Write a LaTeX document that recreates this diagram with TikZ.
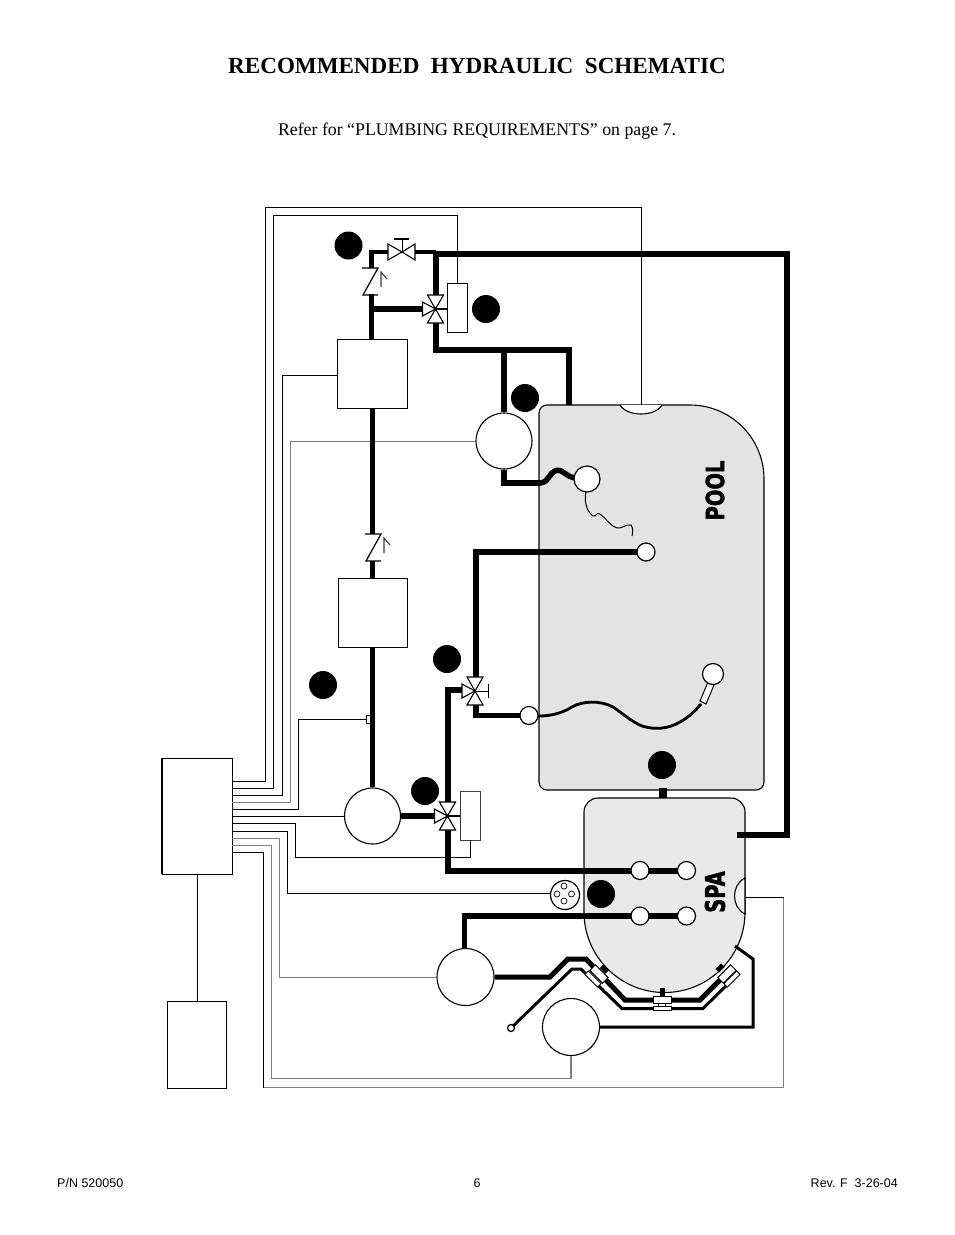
\documentclass[tikz,border=0pt]{standalone}
\usepackage{fontspec}
\usepackage{graphicx}
\setmainfont{Liberation Serif}
\setsansfont{Liberation Sans}
\newfontfamily\heavyfont[FakeBold=1.8]{DejaVu Sans Bold}
\definecolor{poolg}{HTML}{E3E3E3}
\definecolor{spag}{HTML}{E9E9E9}
\definecolor{wgray}{HTML}{808080}
\tikzset{
  pipe/.style={line width=5.2pt,black},
  wire/.style={line width=1.1pt,black},
  gwire/.style={line width=1.1pt,wgray},
  equip/.style={draw,line width=.9pt,fill=white,minimum width=#1,inner sep=0pt},
  pumpc/.style={circle,draw,line width=1.1pt,fill=white,minimum size=#1,inner sep=0pt},
  dot/.style={circle,fill=black,minimum size=28pt,inner sep=0pt},
  tankline/.style={draw=black,line width=1.1pt},
  vtri/.style={draw=black,line width=1.1pt,fill=white,line join=miter},
  threeway/.pic={
    \draw[vtri] (0,0)--(-8,-14)--(8,-14)--cycle;
    \draw[vtri] (0,0)--(-8,14)--(8,14)--cycle;
    \draw[vtri] (0,0)--(-13,-7)--(-13,7)--cycle;
  },
  checkv/.pic={
    \draw[line width=1.2pt] (-9,0)--(7,0)--(-8,27)--(7,27);
    \draw[line width=1.1pt,black!75] (10,19)--(10,4)--(16,11);
  },
  jetmain/.style={draw,line width=1pt,fill=white,minimum width=18pt,minimum height=8pt,inner sep=0pt},
  jetsub/.style={draw,line width=.8pt,fill=white,minimum width=18pt,minimum height=5pt,inner sep=0pt},
  stub/.style={fill=black,minimum width=8pt,minimum height=5pt,inner sep=0pt},
  port/.style={circle,draw,line width=1.2pt,fill=white,minimum size=#1,inner sep=0pt},
}
\begin{document}
\begin{tikzpicture}[x=1pt,y=-1pt]
\useasboundingbox (0,0) rectangle (954,1235);
% texts
\node[font=\fontsize{23.1}{25}\selectfont\bfseries,inner sep=0pt] (title) at (477,66) {RECOMMENDED\ \ HYDRAULIC\ \ SCHEMATIC};
\node[font=\fontsize{17.8}{20}\selectfont,inner sep=0pt] (sub) at (477,131) {Refer for “PLUMBING REQUIREMENTS” on page 7.};
\node[font=\sffamily\fontsize{12.5}{13}\selectfont,inner sep=0pt,anchor=west] (fl) at (57,1183) {P/N 520050};
\node[font=\sffamily\fontsize{12.5}{13}\selectfont,inner sep=0pt] (fc) at (477,1183) {6};
\node[font=\sffamily\fontsize{12.5}{13}\selectfont,inner sep=0pt,anchor=east] (fr) at (898,1183) {Rev. F\ \ 3-26-04};

% pool and spa
\draw[tankline,fill=poolg] (539,413) arc[start angle=180,end angle=270,radius=8] -- (690,405)
  arc[start angle=-90,end angle=0,radius=74] -- (764,782) arc[start angle=0,end angle=90,radius=8]
  -- (547,790) arc[start angle=90,end angle=180,radius=8] -- cycle;
\draw[tankline,fill=white] (620,405) .. controls (627,417) and (655,417) .. (662,405);
\draw[tankline,fill=spag] (584,812) arc[start angle=180,end angle=270,radius=14] -- (731,798)
  arc[start angle=-90,end angle=0,radius=14] -- (745,912)
  arc[start angle=0,end angle=180,radius=80.5] -- cycle;
\draw[tankline,fill=white!50!spag] (745,878) .. controls (731,885) and (731,907) .. (745,914) -- cycle;
\node[stub,minimum width=8pt,minimum height=10pt] (link) at (663,793) {};
\node[rotate=90,font=\heavyfont\fontsize{25}{25}\selectfont,inner sep=0pt] (pooltxt) at (715,490.5) {\scalebox{0.78}[1]{POOL}};
\node[rotate=90,font=\heavyfont\fontsize{27}{27}\selectfont,inner sep=0pt] (spatxt) at (715,892) {\scalebox{0.72}[1]{SPA}};

% equipment
\node[equip=70pt,minimum height=69pt] (heatA) at (372,373.5) {};
\node[equip=69pt,minimum height=69pt] (heatB) at (372.5,612.5) {};
\node[equip=70pt,minimum height=116pt] (ctrl) at (197,816) {};
\draw[line width=2pt] ([xshift=.6pt]ctrl.north west) -- ([xshift=.6pt]ctrl.south west);
\node[equip=59pt,minimum height=87pt] (xfmr) at (196.5,1044.5) {};
\node[pumpc=56pt] (pumpA) at (504,441) {};
\node[pumpc=56pt] (pumpB) at (372.5,816) {};
\node[pumpc=57pt] (pumpC) at (465.5,977) {};
\node[pumpc=57pt] (pumpD) at (571,1027) {};
\node[equip=20pt,minimum height=49pt] (actA) at (457,308) {};
\node[draw=black!75,line width=.9pt,fill=white,minimum width=20pt,minimum height=49pt,inner sep=0pt] (actB) at (470,815.5) {};
\node[draw,line width=.8pt,fill=white,minimum width=5pt,minimum height=8pt,inner sep=0pt] (sensor) at (369,719) {};

% coordinates
\coordinate (vA) at (435.5,309);
\coordinate (vB) at (447.5,816);
\coordinate (vC) at (475,691);
\coordinate (gate) at (402,252);
\coordinate (chkA) at (371,268);
\coordinate (chkB) at (374,534);

% control wires
\draw[wire] (ctrl.east |- 0,781.5) -| (265.5,207.5) -| (641.5,405);
\draw[wire] (ctrl.east |- 0,788.5) -| (273.5,215.5) -| ([xshift=.5pt]actA.north);
\draw[wire] (ctrl.east |- 0,795.5) -| (282.5,375.5) -- (heatA.west |- 0,375.5);
\draw[gwire] (ctrl.east |- 0,802.5) -| (290.5,441.5) -- (pumpA.west |- 0,441.5);
\draw[wire] (ctrl.east |- 0,809.5) -| (298.5,719.5) -- (sensor.west |- 0,719.5);
\draw[wire] (ctrl.east |- 0,816.5) -- (pumpB.west |- 0,816.5);
\draw[wire] (ctrl.east |- 0,823.5) -| (295.5,857.5) -| ([xshift=.5pt]actB.south);
\draw[wire] (ctrl.east |- 0,831.5) -| (287.5,893.5) -- (551,893.5);
\draw[gwire] (ctrl.east |- 0,838.5) -| (279.5,977.5) -- (pumpC.west |- 0,977.5);
\draw[gwire] (ctrl.east |- 0,845.5) -| (271.5,1078.5) -| (pumpD.south);
\draw[wire] (ctrl.east |- 0,852.5) -| (263.5,1087.5);
\draw[gwire] (263.5,1087.5) -- (783.5,1087.5) -- (783.5,897.5);
\draw[wire] (783.5,897.5) -- (745,897.5);
\draw[wire] ([xshift=.5pt]ctrl.south) -- ([xshift=.5pt]ctrl.south |- xfmr.north);
\draw[wire] (vA) -- (actA.west |- vA);
\draw[wire] (vB) -- (actB.west |- vB);

% piping
\draw[pipe] (737,835) -- (787,835) -- (787,254) -- (436,254) -- (436,297);
\draw[pipe] (436,323) -- (436,350) -- (569,350) -- (569,405);
\draw[pipe] (504,350) -- (pumpA.north);
\draw[pipe] (371.5,294) -- (371.5,339);
\draw[pipe] (371.5,309) -- (423,309);
\draw[pipe,line width=4.4pt] (371.5,268) -- (371.5,252) -- (392,252);
\draw[pipe,line width=4.4pt] (412,252) -- (436,252);
\draw[pipe] (372.5,408) -- (372.5,534);
\draw[pipe] (372.5,561) -- (heatB.north);
\draw[pipe] (heatB.south) -- (pumpB.north);
\draw[pipe] (pumpB.east) -- (436,816);
\draw[pipe] (448,804) -- (448,690) -- (463,690);
\draw[pipe] (448,829) -- (448,871) -- (640,871) -- (687,871);
\draw[pipe] (476,678) -- (476,552) -- (646,552);
\draw[pipe] (476,704) -- (476,715.5) -- (529,715.5);
\draw[pipe] (pumpA.south) -- (504,483) -- (541,483);
\draw[pipe] (464.5,949) -- (464.5,916) -- (687,916);
\draw[line width=2.8pt] (538,716) .. controls (552,716) and (562,713) .. (572,707)
  .. controls (582,701) and (600,700) .. (613,707)
  .. controls (622,713) and (632,722) .. (642,726)
  .. controls (655,730) and (668,729) .. (680,722)
  .. controls (689,717) and (695,711) .. (701,704);
\draw[line width=5.5pt] (540,483) .. controls (550,482) and (549,472) .. (556,470.5)
  .. controls (564,469) and (565,477) .. (576,478);
\draw[line width=1pt] (586,492) .. controls (584,500) and (586,511) .. (593,516)
  .. controls (596,517) and (596,512) .. (600,514)
  .. controls (606,518) and (610,526) .. (617,528)
  .. controls (622,529) and (625,524) .. (631,525) .. controls (633,528) and (633,532) .. (632,536);

% jet piping
\draw[pipe,line width=5pt] (pumpC.east |- 0,977) -- (550,977) -- (568,959) -- (586,959) -- (625,1000) -- (700,1000) -- (727,973);
\draw[line width=3pt] (511,1028) -- (572,969) -- (581,969) -- (622,1008.5) -- (703,1008.5) -- (733,979);
\draw[line width=3pt] (pumpD.east) -- (753,1027) -- (753,959) -- (735,946);
\node[stub,rotate=-45] (stubL) at (604.5,969) {};
\node[stub,rotate=45] (stubR) at (720,968) {};
\node[stub,minimum width=5pt,minimum height=8pt] (stubC) at (662,992) {};
\node[draw,line width=.6pt,fill=white,minimum width=7pt,minimum height=3pt,inner sep=0pt] (jetlink) at (662,1004.5) {};
\node[jetmain,minimum width=18pt,minimum height=7pt] (jetC) at (662.5,999.5) {};
\node[jetsub,minimum width=18pt,minimum height=4.5pt] (jetCs) at (662.5,1008.5) {};
\node[jetsub,rotate=-45] (jetLs) at (593,979) {};
\node[jetmain,rotate=-45] (jetL) at (599,974) {};
\node[jetsub,rotate=45] (jetRs) at (732,979) {};
\node[jetmain,rotate=45] (jetR) at (727,974) {};
\node[port=7pt] (air) at (511,1028) {};

% ports
\node[port=26pt] (skimA) at (587,479) {};
\node[port=18pt] (drain) at (646,552) {};
\node[port=18pt] (retA) at (529,715.5) {};
\draw[line width=1pt,fill=white] (700,701) -- (706,704) -- (714,685) -- (708,682) -- cycle;
\node[port=21pt] (retB) at (713,674) {};
\node[port=18pt] (spaA) at (640,870.5) {};
\node[port=18pt] (spaB) at (686.5,870.5) {};
\node[port=18pt] (spaC) at (640,916) {};
\node[port=18pt] (spaD) at (686.5,916) {};
\node[port=29pt] (light) at (565,895) {};
\foreach \p in {(564,886),(571.5,894),(564,901),(557,894)}
  \draw[line width=.7pt] \p circle[radius=3];

% valves
\pic at (vA) {threeway};
\pic at (vB) {threeway};
\pic at (vC) {threeway};
\draw[line width=1pt] (vC) -- (488,691) (488,684) -- (488,698);
\draw[vtri] (gate) -- (388,244) -- (388,260) -- cycle;
\draw[vtri] (gate) -- (415,244) -- (415,260) -- cycle;
\draw[line width=1pt] (gate) -- (402,239);
\draw[line width=2.4pt] (394,239) -- (409,239);
\pic at (chkA) {checkv};
\pic at (chkB) {checkv};

% reference dots
\node[dot] (d1) at (348.5,245.5) {};
\node[dot] (d2) at (486,309) {};
\node[dot] (d3) at (525,398) {};
\node[dot] (d4) at (447,659) {};
\node[dot] (d5) at (323,685) {};
\node[dot] (d6) at (425,791) {};
\node[dot] (d7) at (662,765) {};
\node[dot] (d8) at (601,894) {};
\end{tikzpicture}
\end{document}
